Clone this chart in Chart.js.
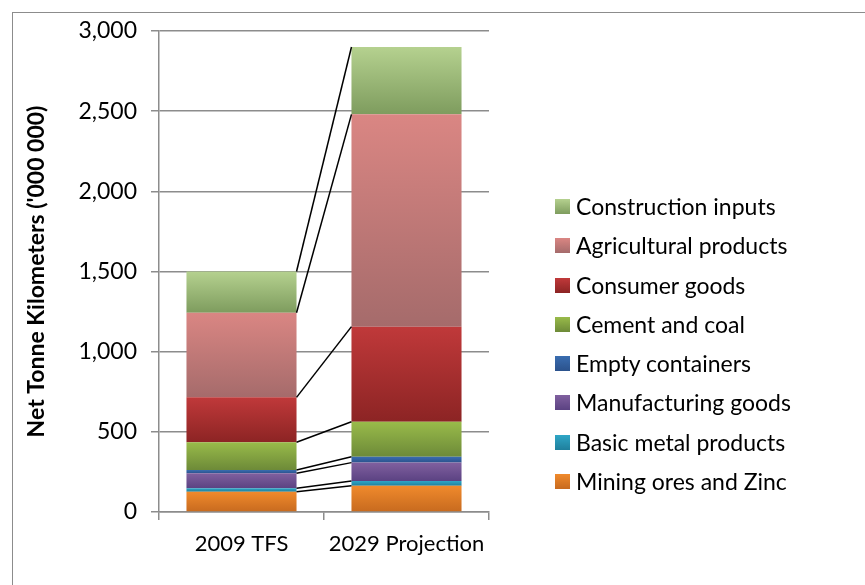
<!DOCTYPE html>
<html>
<head>
<meta charset="utf-8">
<script src="https://cdn.jsdelivr.net/npm/chart.js@4.4.0/dist/chart.umd.min.js"></script>
<style>
    body { margin: 0; background: #fff; }
    #wrap { position: relative; width: 865px; height: 585px; overflow: hidden; }
    #frame { position: absolute; left: 12px; top: 12px; width: 900px; height: 600px;
             border-left: 1px solid #8c8c8c; border-top: 1px solid #8c8c8c; }
    #chart { position: absolute; left: 0; top: 0; }
    #legend { position: absolute; left: 555px; top: 192px; font-family: Lato, sans-serif;
              font-size: 23px; color: #000; }
    .item { height: 39.3px; display: flex; align-items: flex-start; line-height: 28px; }
    .box { width: 15px; height: 15px; margin-top: 7px; margin-right: 6px; }
</style>
</head>
<body>
<div id="wrap">
    <div id="frame"></div>
    <canvas id="chart" width="865" height="585"></canvas>
    <div id="legend"></div>
</div>
<script>
// categories and series (bottom to top of the stack)
const categories = ['2009 TFS', '2029 Projection'];
const seriesNames = ['Mining ores and Zinc', 'Basic metal products', 'Manufacturing goods',
    'Empty containers', 'Cement and coal', 'Consumer goods', 'Agricultural products', 'Construction inputs'];
const mining = [127, 164];
const basicMetal = [21, 29];
const manufacturing = [93, 115];
const emptyContainers = [21, 37];
const cementCoal = [173, 218];
const consumer = [280, 593];
const agricultural = [528, 1324];
const construction = [257, 420];
const yTicks = [0, 500, 1000, 1500, 2000, 2500, 3000];

const seriesValues = [mining, basicMetal, manufacturing, emptyContainers, cementCoal, consumer, agricultural, construction];
// top / bottom colours of the gradient fills
const topColors = ['#f08a2c', '#2fa6c6', '#80609f', '#3a6db0', '#99bb4a', '#c0393a', '#da8683', '#b5d18f'];
const bottomColors = ['#c76a1f', '#1f7f9c', '#5b4282', '#2b528c', '#6d8a38', '#8c2424', '#a56b6b', '#7e9c5e'];

function gradientFill(i) {
    return function (ctx) {
        const chart = ctx.chart;
        const y = chart.scales.y;
        if (!y || ctx.type !== 'data') return topColors[i];
        let below = 0;
        for (let k = 0; k < i; k++) below += seriesValues[k][ctx.dataIndex];
        const top = y.getPixelForValue(below + seriesValues[i][ctx.dataIndex]);
        const base = y.getPixelForValue(below);
        if (!isFinite(top) || !isFinite(base) || top === base) return topColors[i];
        const g = chart.ctx.createLinearGradient(0, top, 0, base);
        g.addColorStop(0, topColors[i]);
        g.addColorStop(1, bottomColors[i]);
        return g;
    };
}

// series lines joining the top of each segment
const seriesLines = {
    id: 'seriesLines',
    afterDatasetsDraw(chart) {
        const ctx = chart.ctx;
        ctx.save();
        ctx.strokeStyle = '#000';
        ctx.lineWidth = 1.5;
        chart.data.datasets.forEach((ds, i) => {
            const bars = chart.getDatasetMeta(i).data;
            const a = bars[0], b = bars[1];
            ctx.beginPath();
            ctx.moveTo(a.x + a.width / 2, a.y);
            ctx.lineTo(b.x - b.width / 2, b.y);
            ctx.stroke();
        });
        ctx.restore();
    }
};

const datasets = seriesNames.map((name, i) => ({
    label: name,
    data: seriesValues[i],
    backgroundColor: gradientFill(i),
    borderWidth: 0,
    categoryPercentage: 1.0,
    barPercentage: 0.667
}));

const chartFont = { family: 'Lato', size: 23 };

new Chart(document.getElementById('chart').getContext('2d'), {
    type: 'bar',
    data: { labels: categories, datasets: datasets },
    plugins: [seriesLines],
    options: {
        responsive: false,
        animation: false,
        layout: { padding: { left: 0, right: 376, top: 31, bottom: 0 } },
        plugins: {
            legend: { display: false },
            tooltip: { enabled: false }
        },
        scales: {
            x: {
                stacked: true,
                offset: true,
                afterFit: function (scale) { scale.height = 73; },
                grid: { display: true, drawOnChartArea: false, offset: true, color: '#8c8c8c', lineWidth: 1.5, tickLength: 8 },
                border: { color: '#8c8c8c', width: 1.5 },
                ticks: { color: '#000', font: { family: 'Lato', size: 22 }, padding: 11,
                         autoSkip: false, maxRotation: 0, minRotation: 0 }
            },
            y: {
                stacked: true,
                min: 0,
                max: 3000,
                afterFit: function (scale) { scale.width = 159; },
                afterBuildTicks: function (scale) {
                    scale.ticks = yTicks.map(v => ({ value: v }));
                },
                grid: { color: '#8c8c8c', lineWidth: 1.5, tickLength: 8 },
                border: { color: '#8c8c8c', width: 1.5 },
                ticks: {
                    color: '#000',
                    font: chartFont,
                    padding: 14,
                    callback: function (v) { return v.toLocaleString('en-US'); }
                },
                title: {
                    display: true,
                    text: "Net Tonne Kilometers ('000 000)",
                    color: '#000',
                    font: { family: 'Lato', size: 23, weight: 'bold' },
                    padding: { top: 23, bottom: 0 }
                }
            }
        }
    }
});

// legend (top entry first, as in the reference)
const legend = document.getElementById('legend');
for (let i = seriesNames.length - 1; i >= 0; i--) {
    const item = document.createElement('div');
    item.className = 'item';
    const box = document.createElement('div');
    box.className = 'box';
    box.style.background = 'linear-gradient(' + topColors[i] + ', ' + bottomColors[i] + ')';
    const txt = document.createElement('span');
    txt.textContent = seriesNames[i];
    item.appendChild(box);
    item.appendChild(txt);
    legend.appendChild(item);
}
</script>
</body>
</html>
